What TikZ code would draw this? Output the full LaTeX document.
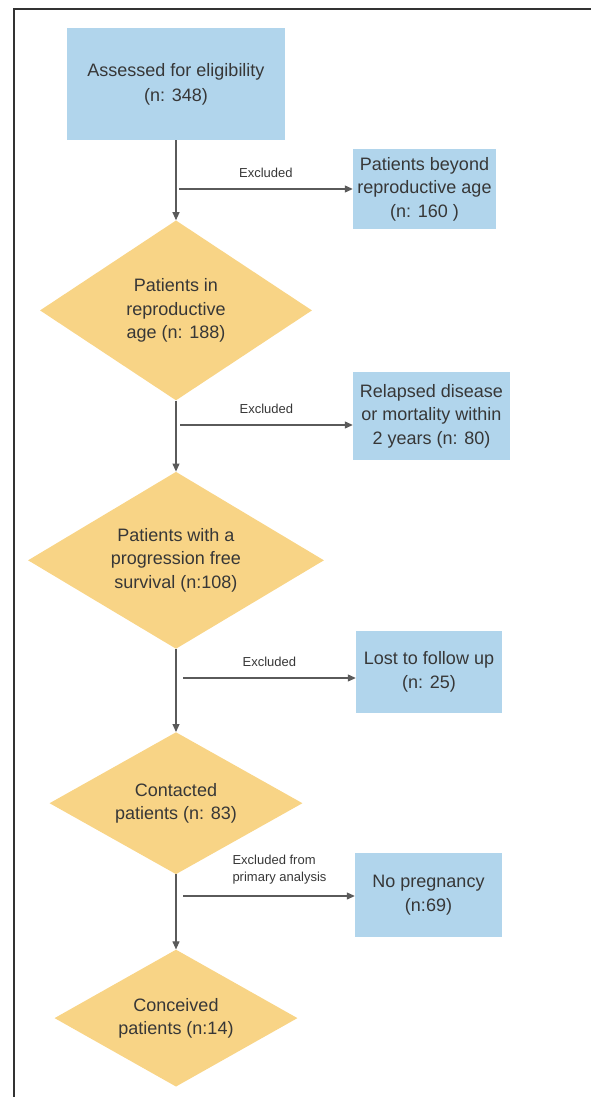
\documentclass[tikz,border=0pt]{standalone}
\usepackage{fontspec}
\setmainfont{Liberation Sans}
\usetikzlibrary{positioning,arrows.meta,shapes.geometric}
\definecolor{boxblue}{RGB}{177,213,236}
\definecolor{diagold}{RGB}{248,212,134}
\definecolor{linegray}{RGB}{90,90,90}
\definecolor{txtgray}{RGB}{55,55,55}
\definecolor{framegray}{RGB}{50,50,50}
\tikzset{
  pbox/.style ={rectangle, fill=boxblue, text=txtgray, align=center, inner sep=0pt,
                font=\fontsize{18}{23.5}\selectfont},
  pdia/.style ={diamond, fill=diagold, text=txtgray, align=center, inner sep=0pt,
                font=\fontsize{18}{23.5}\selectfont},
  flow/.style ={-{Triangle[length=8pt, width=7pt]}, line width=1.1pt, draw=linegray},
  excl/.style ={font=\fontsize{13}{17}\selectfont, text=txtgray, inner sep=0pt},
}

\begin{document}
\begin{tikzpicture}[x=1pt, y=-1pt]
\useasboundingbox (0,0) rectangle (590,1097);
\draw[framegray, line width=2pt] (14.3,1098) -- (14.3,9.3) -- (591,9.3);
% main column
\node[pbox, minimum width=218pt, minimum height=112pt, font=\fontsize{18}{25}\selectfont] (assess) at (176,84) {Assessed for eligibility\\(n: 348)};
\node[pdia, aspect=1.51, minimum width=272pt, minimum height=180pt, below=80pt of assess] (repro) {Patients in\\reproductive\\age (n: 188)};
\node[pdia, aspect=1.67, minimum width=296pt, minimum height=177pt, below=71pt of repro] (pfs) {Patients with a\\progression free\\survival (n:108)};
\node[pdia, aspect=1.78, minimum width=253pt, minimum height=142pt, below=83pt of pfs] (contact) {Contacted\\patients (n: 83)};
\node[pdia, aspect=1.77, minimum width=243pt, minimum height=137pt, below=75pt of contact] (conceive) {Conceived\\patients (n:14)};
\foreach \a/\b in {assess/repro, repro/pfs, pfs/contact, contact/conceive} \draw[flow] (\a) -- (\b);
% excluded boxes
\node[pbox, minimum width=143pt, minimum height=80pt] (beyond) at (424.5,189) {Patients beyond\\reproductive age\\(n: 160 )};
\node[pbox, minimum width=157pt, minimum height=88pt] (relapse) at (431.5,416) {Relapsed disease\\or mortality within\\2 years (n: 80)};
\node[pbox, minimum width=146pt, minimum height=82pt] (lost) at (429,672) {Lost to follow up\\(n: 25)};
\node[pbox, minimum width=147pt, minimum height=84pt] (nopreg) at (428.5,895) {No pregnancy\\(n:69)};
\coordinate (x1) at (179,189);
\coordinate (x2) at (180,425);
\coordinate (x3) at (183,678);
\coordinate (x4) at (183,896);
\draw[flow] (x1) -- (x1 -| beyond.west) node[excl, midway, above=11pt] {Excluded};
\draw[flow] (x2) -- (x2 -| relapse.west) node[excl, midway, above=11pt] {Excluded};
\draw[flow] (x3) -- (x3 -| lost.west) node[excl, midway, above=11pt] {Excluded};
\draw[flow] (x4) -- (x4 -| nopreg.west) node[excl, pos=0.285, anchor=south west, yshift=11pt, align=left] {Excluded from\\primary analysis};
\end{tikzpicture}
\end{document}
